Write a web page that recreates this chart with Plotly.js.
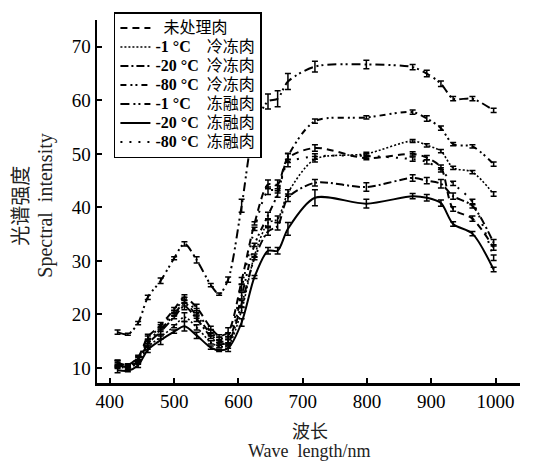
<!DOCTYPE html>
<html>
<head>
<meta charset="utf-8">
<script src="https://cdn.plot.ly/plotly-3.0.1.min.js"></script>
<style>html,body{margin:0;padding:0;background:#fff}#chart{width:543px;height:461px}</style>
</head>
<body>
<div id="chart"></div>
<script>
// wavelengths (nm)
const wavelength = [412, 428, 444, 459, 479, 500, 516, 535, 557, 570, 584, 605, 625, 646, 661, 677, 719, 799, 871, 893, 915, 934, 964, 997];

// legend names
const seriesNames = [
  "\u00a0\u00a0未处理肉",
  "<b>-1 °C</b>\u00a0\u00a0\u00a0\u00a0冷冻肉",
  "<b>-20 °C</b>\u00a0\u00a0冷冻肉",
  "<b>-80 °C</b>\u00a0\u00a0冷冻肉",
  "<b>-1 °C</b>\u00a0\u00a0\u00a0\u00a0冻融肉",
  "<b>-20 °C</b>\u00a0\u00a0冻融肉",
  "<b>-80 °C</b>\u00a0\u00a0冻融肉"
];

// spectral intensity per series
const untreated = [11.0, 10.6, 12.0, 15.8, 18.0, 21.0, 23.2, 21.3, 17.5, 16.0, 16.7, 26.3, 37.0, 44.3, 44.3, 49.2, 51.1, 49.2, 50.0, 49.3, 47.5, 39.7, 37.9, 32.5];
const frozen1   = [10.3, 10.0, 11.0, 13.9, 15.8, 17.8, 19.5, 17.6, 14.8, 14.0, 14.2, 20.8, 31.0, 37.1, 37.8, 42.7, 49.0, 50.0, 52.4, 51.6, 50.5, 47.4, 46.6, 42.5];
const frozen20  = [10.6, 10.2, 11.3, 14.5, 16.8, 19.5, 21.5, 19.2, 15.8, 14.5, 14.8, 22.0, 30.5, 35.5, 36.5, 41.8, 44.6, 43.8, 45.5, 45.0, 44.4, 42.1, 40.3, 33.4];
const frozen80  = [10.9, 10.4, 11.6, 15.0, 17.2, 20.0, 22.1, 19.8, 16.3, 15.0, 15.2, 23.5, 33.0, 38.5, 42.5, 49.5, 56.1, 56.8, 57.8, 56.6, 54.8, 51.8, 51.4, 48.1];
const thawed1   = [16.7, 16.3, 18.4, 23.2, 26.3, 30.5, 33.2, 30.2, 25.5, 23.8, 26.5, 40.3, 55.0, 59.8, 60.3, 63.5, 66.3, 66.7, 66.2, 65.0, 63.1, 60.3, 60.3, 58.1];
const thawed20  = [9.6, 9.5, 10.5, 13.4, 15.2, 16.8, 17.8, 16.1, 13.8, 13.3, 13.7, 18.5, 27.0, 31.9, 31.9, 36.0, 41.8, 40.7, 42.1, 41.8, 40.8, 36.9, 35.1, 28.4];
const thawed80  = [10.8, 10.5, 11.8, 15.5, 17.6, 20.5, 22.7, 20.5, 16.8, 15.5, 16.0, 25.0, 36.0, 43.1, 43.4, 48.3, 49.5, 49.6, 49.0, 48.5, 47.0, 44.5, 41.0, 30.6];

// error bars (±)
const errUntreated = [0.5,0.2,0.4,0.5,0.5,0.3,0.5,0.6,0.3,0.2,0.8,0.6,0.3,0.8,0.8,0.8,0.6,0.3,0.4,0.4,0.4,0.4,0.5,0.5];
const errFrozen1   = [0.4,0.2,0.3,0.4,0.4,0.3,0.8,0.5,0.3,0.2,0.5,0.5,0.3,0.6,0.6,0.6,0.5,0.3,0.3,0.3,0.3,0.3,0.3,0.4];
const errFrozen20  = [0.4,0.2,0.3,0.4,0.5,0.3,0.6,0.5,0.3,0.2,0.5,0.6,0.3,0.7,0.7,0.7,0.6,0.8,0.6,0.6,0.8,0.6,0.4,0.6];
const errFrozen80  = [0.5,0.2,0.4,0.4,0.4,0.3,0.5,0.5,0.3,0.2,0.6,0.6,0.3,0.6,0.6,0.6,0.4,0.3,0.4,0.5,0.4,0.3,0.3,0.4];
const errThawed1   = [0.4,0.2,0.3,0.4,0.5,0.3,0.4,0.6,0.3,0.2,0.5,1.2,0.5,1.4,1.5,1.5,1.0,0.8,0.5,0.6,0.5,0.4,0.4,0.4];
const errThawed20  = [0.5,0.2,0.4,0.5,0.8,0.3,0.9,0.6,0.3,0.2,0.6,0.7,0.3,0.6,0.6,1.2,1.5,0.8,0.5,0.6,0.6,0.4,0.4,0.4];
const errThawed80  = [0.5,0.2,0.4,0.5,0.5,0.3,0.5,0.6,0.3,0.2,0.6,0.6,0.3,0.7,0.7,0.7,0.5,0.4,0.4,0.4,0.4,0.4,0.5,0.5];

const seriesValues = [untreated, frozen1, frozen20, frozen80, thawed1, thawed20, thawed80];
const seriesErrors = [errUntreated, errFrozen1, errFrozen20, errFrozen80, errThawed1, errThawed20, errThawed80];
const seriesDash = ["7px,5px", "2px,2px", "8px,3px,2px,3px", "6px,4px,2px,3px,2px,4px", "9px,4px,2px,3px,2px,4px", "solid", "2px,7px"];
const seriesWidth = [2, 1.6, 2, 2, 2, 2, 2];

const traces = seriesValues.map((vals, i) => ({
  type: "scatter",
  mode: "lines",
  x: wavelength,
  y: vals,
  name: '<span style="font-size:16px">' + seriesNames[i] + '</span>',
  line: {color: "#000", width: seriesWidth[i], dash: seriesDash[i], shape: "spline", smoothing: 0.8},
  error_y: {type: "data", array: seriesErrors[i], visible: true, color: "#000", thickness: 1.5, width: 3}
}));

const serif = "'Liberation Serif', 'Times New Roman', 'Noto Sans CJK SC', serif";
const layout = {
  width: 543, height: 461,
  margin: {l: 97, r: 23, t: 18, b: 78},
  paper_bgcolor: "#fff", plot_bgcolor: "#fff",
  showlegend: true,
  legend: {
    x: 0.040, y: 1.022, xanchor: "left", yanchor: "top",
    bgcolor: "#fff", bordercolor: "#000", borderwidth: 1.5,
    font: {family: serif, size: 12, color: "#000"},
    itemwidth: 30, tracegroupgap: 0
  },
  xaxis: {
    range: [380, 1038], tickvals: [400, 500, 600, 700, 800, 900, 1000],
    showline: true, linecolor: "#000", linewidth: 2.5, mirror: false,
    ticks: "inside", ticklen: 5, tickwidth: 2, tickcolor: "#000",
    showgrid: false, zeroline: false,
    tickfont: {family: serif, size: 19, color: "#000"}
  },
  yaxis: {
    range: [7.2, 75], tickvals: [10, 20, 30, 40, 50, 60, 70],
    showline: true, linecolor: "#000", linewidth: 2.5, mirror: false,
    ticks: "inside", ticklen: 5, tickwidth: 2, tickcolor: "#000",
    showgrid: false, zeroline: false,
    tickfont: {family: serif, size: 19, color: "#000"}
  },
  annotations: [
    {text: "波长", xref: "paper", yref: "paper", x: 0.503, y: -0.129, xanchor: "center", yanchor: "middle", showarrow: false, font: {family: "'Noto Sans CJK SC', serif", size: 18, color: "#222"}},
    {text: "Wave\u00a0\u00a0length/nm", xref: "paper", yref: "paper", x: 0.503, y: -0.186, xanchor: "center", yanchor: "middle", showarrow: false, font: {family: serif, size: 18, color: "#222"}},
    {text: "光谱强度", xref: "paper", yref: "paper", x: -0.182, y: 0.488, xanchor: "center", yanchor: "middle", textangle: -90, showarrow: false, font: {family: "'Noto Sans CJK SC', serif", size: 20, color: "#222"}},
    {text: "Spectral\u00a0\u00a0intensity", xref: "paper", yref: "paper", x: -0.121, y: 0.488, xanchor: "center", yanchor: "middle", textangle: -90, showarrow: false, font: {family: serif, size: 20, color: "#222"}}
  ]
};

Plotly.newPlot("chart", traces, layout, {displayModeBar: false, staticPlot: true});
</script>
</body>
</html>
